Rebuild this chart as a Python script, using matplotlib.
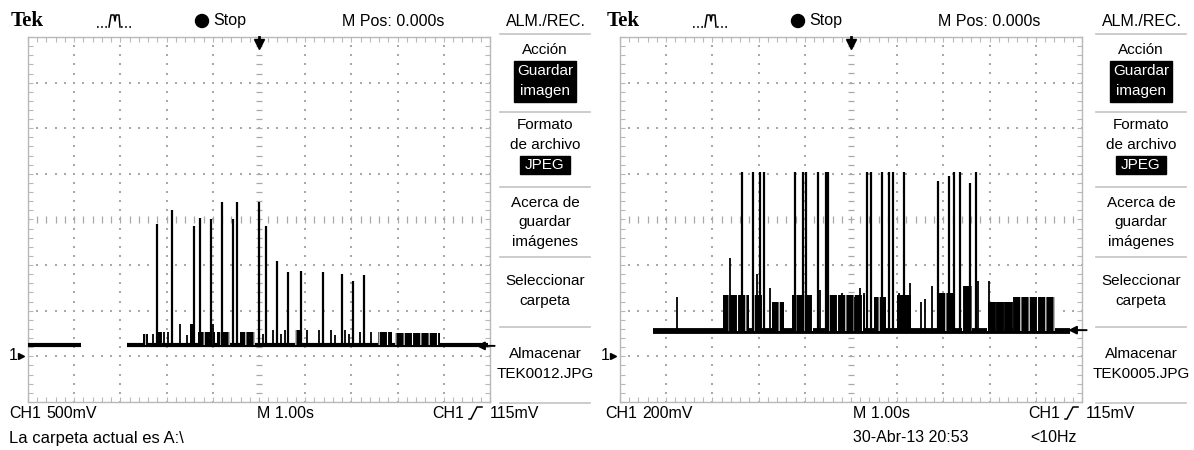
import matplotlib.pyplot as plt
import numpy as np
from matplotlib import font_manager
from matplotlib.patches import Rectangle, Circle

# ---- captured traces: time in s (M Pos 0 at centre), amplitude in V ----
left_base = [(-5.00, -3.85), (-2.86, 4.95)]
left_level = 0.12
left_spike_t = [-2.20, -1.88, -1.41, -1.28, -1.04, -0.81, -0.57, -0.48, -0.01,
                0.15, 0.39, 0.63, 0.90, 1.39, 1.79, 2.03, 2.27]
left_spike_v = [1.45, 1.60, 1.43, 1.52, 1.51, 1.69, 1.51, 1.69, 1.69,
                1.43, 1.04, 0.93, 0.94, 0.93, 0.90, 0.83, 0.89]
left_pulse_t = [-2.49, -2.42, -2.29, -2.05, -1.96, -1.72, -1.55, -0.99, 0.08, 0.30,
                0.47, 0.56, 1.04, 1.30, 1.55, 1.65, 1.86, 1.95, 2.19, 2.42]
left_pulse_v = [0.25, 0.25, 0.25, 0.27, 0.27, 0.36, 0.23, 0.36, 0.25, 0.29,
                0.25, 0.29, 0.29, 0.29, 0.29, 0.23, 0.29, 0.25, 0.27, 0.27]
left_bursts = [(-2.52, -2.40, 0.25), (-2.18, -2.11, 0.27), (-1.49, -1.41, 0.36),
               (-1.31, -0.95, 0.27), (-0.91, -0.63, 0.27), (-0.41, -0.09, 0.27),
               (0.78, 0.92, 0.29), (2.58, 2.87, 0.27), (2.94, 3.92, 0.26)]

right_base = [(-4.29, 4.74)]
right_level = 0.11
right_spike_t = [-2.37, -2.13, -1.96, -1.89, -1.21, -1.04, -0.97, -0.72, -0.54, -0.49, 0.35,
                 0.44, 0.68, 0.83, 0.90, 1.15, 1.88, 2.12, 2.23, 2.35, 2.58, 2.71]
right_spike_v = [0.81, 0.81, 0.81, 0.81, 0.81, 0.81, 0.81, 0.81, 0.81, 0.81, 0.81,
                 0.81, 0.81, 0.81, 0.81, 0.81, 0.77, 0.79, 0.81, 0.81, 0.76, 0.81]
right_pulse_t = [-3.77, -2.62, -2.03, -1.75, -1.60, -1.50, -0.67, -0.35, -0.20, -0.05,
                 0.08, 0.19, 0.28, 0.56, 1.04, 1.19, 1.28, 1.52, 1.60, 1.76, 2.75,
                 2.99, 3.05, 3.13, 3.23, 3.31, 3.41, 3.48]
right_pulse_v = [0.26, 0.43, 0.36, 0.30, 0.24, 0.24, 0.29, 0.27, 0.28, 0.27,
                 0.26, 0.30, 0.28, 0.25, 0.28, 0.25, 0.32, 0.24, 0.25, 0.31, 0.33,
                 0.33, 0.24, 0.24, 0.24, 0.24, 0.24, 0.24]
right_bursts = [(-2.77, -2.20, 0.27), (-2.12, -1.93, 0.27), (-1.70, -1.45, 0.24),
                (-1.28, -0.82, 0.27), (-0.53, 0.12, 0.27), (0.12, 0.30, 0.27),
                (0.50, 0.75, 0.26), (1.00, 1.30, 0.27), (1.90, 2.20, 0.28),
                (2.40, 2.62, 0.31), (2.94, 3.48, 0.24), (3.51, 4.42, 0.26)]

trigger_v = 0.115

W, H = 1194, 450
GT, GB, GW = 37, 402, 462          # screen graticule box (pixels)
GRID = '#a8a8a8'

names = {f.name for f in font_manager.fontManager.ttflist}
SANS = 'Liberation Sans Narrow' if 'Liberation Sans Narrow' in names else 'Liberation Sans'
FS = 11.5
plt.rcParams['hatch.linewidth'] = 0.8

fig = plt.figure(figsize=(W / 100, H / 100), dpi=100, facecolor='white')

ov = fig.add_axes([0, 0, 1, 1])
ov.set_xlim(0, W)
ov.set_ylim(H, 0)
ov.axis('off')
ov.patch.set_alpha(0)
ov.set_zorder(10)


def txt(x, y, s, ha='left', color='k', **kw):
    ov.text(x, y, s, ha=ha, va='center', color=color, fontsize=kw.pop('size', FS),
            family=kw.pop('family', SANS), **kw)


def screen(gx, vdiv, base, level, sp_t, sp_v, pu_t, pu_v, bursts, base_lw):
    ax = fig.add_axes([gx / W, 1 - GB / H, GW / W, (GB - GT) / H])
    ax.set_xlim(-5, 5)
    ax.set_ylim(-vdiv, 7 * vdiv)
    ax.patch.set_alpha(0)
    for s in ax.spines.values():
        s.set_color('#b8b8b8')
        s.set_linewidth(1)
    ax.set_xticks(np.arange(-5, 5.01, 0.2))
    ax.set_yticks((np.arange(-4, 4.01, 0.2) + 3) * vdiv)
    ax.tick_params(direction='in', length=3.5, width=0.8, color='#b8b8b8',
                   top=True, right=True, labelbottom=False, labelleft=False)

    # dotted graticule
    fine = np.arange(-4, 4.01, 0.2)
    for xm in [-4, -3, -2, -1, 1, 2, 3, 4]:
        ax.scatter(np.full_like(fine, xm), (fine + 3) * vdiv, s=1.6, marker='s',
                   color=GRID, lw=0, zorder=1)
    fx = np.arange(-5, 5.01, 0.2)
    for ym in [-3, -2, -1, 1, 2, 3]:
        ax.scatter(fx, np.full_like(fx, (ym + 3) * vdiv), s=1.6, marker='s',
                   color=GRID, lw=0, zorder=1)
    ax.hlines((fine + 3) * vdiv, -0.07, 0.07, color=GRID, lw=0.9, zorder=1)
    ax.vlines(fx, (3 - 0.07) * vdiv, (3 + 0.07) * vdiv, color=GRID, lw=0.9, zorder=1)

    # trace
    for t0, t1 in base:
        ax.plot([t0, t1], [level, level], color='k', lw=base_lw,
                solid_capstyle='butt', zorder=3)
    for t0, t1, v in bursts:
        ax.fill_between([t0, t1], level, v, facecolor='black', edgecolor='white',
                        hatch='||', lw=0, zorder=3)
    ax.vlines(pu_t, level, pu_v, color='k', lw=1.3, zorder=3)
    ax.vlines(sp_t, level, sp_v, color='k', lw=1.6, zorder=3)

    # trigger level arrow
    ax.annotate('', xy=(4.70, trigger_v), xytext=(5.1, trigger_v),
                arrowprops=dict(arrowstyle='-|>', color='k', lw=1.4,
                                mutation_scale=12, shrinkA=0, shrinkB=0),
                annotation_clip=False, zorder=4)
    return ax


screen(28, 0.5, left_base, left_level, left_spike_t, left_spike_v,
       left_pulse_t, left_pulse_v, left_bursts, 3.0)
screen(620, 0.2, right_base, right_level, right_spike_t, right_spike_v,
       right_pulse_t, right_pulse_v, right_bursts, 4.2)

panels = [
    dict(dx=0, gx=28, scale='500mV', file='TEK0012.JPG'),
    dict(dx=596, gx=620, scale='200mV', file='TEK0005.JPG'),
]

menu = [('Acción', 50), ('Formato', 125), ('de archivo', 145),
        ('Acerca de', 203), ('guardar', 222), ('imágenes', 242),
        ('Seleccionar', 281), ('carpeta', 301), ('Almacenar', 354)]
menu_lines = [34, 112, 187, 257, 327, 403]

for p in panels:
    dx, gx = p['dx'], p['gx']
    # header
    txt(11 + dx, 21, 'Tek', family='Liberation Serif', weight='bold', size=15)
    ov.plot([97 + dx, 109 + dx], [27, 27], color='k', lw=1.2, ls=(0, (1, 1.5)))
    ov.plot([109 + dx, 111 + dx, 114 + dx, 115 + dx, 116 + dx, 119 + dx, 120 + dx],
            [27, 15, 15, 21, 15, 15, 27], color='k', lw=1.1)
    ov.plot([121 + dx, 133 + dx], [27, 27], color='k', lw=1.2, ls=(0, (1, 1.5)))
    ov.add_patch(Circle((202 + dx, 21), 6.5, color='k'))
    txt(213 + dx, 21, 'Stop')
    txt(342 + dx, 21, 'M Pos: 0.000s')
    txt(546 + dx, 21, 'ALM./REC.', ha='center')

    # side menu
    for y in menu_lines:
        ov.plot([500 + dx, 590 + dx], [y, y], color='#c4c4c4', lw=1.2)
    for s, y in menu:
        txt(545 + dx, y, s, ha='center', size=11)
    txt(545 + dx, 374, p['file'], ha='center', size=11)
    ov.add_patch(Rectangle((514 + dx, 61), 62, 41, color='k'))
    txt(545 + dx, 71, 'Guardar', ha='center', color='white', size=11)
    txt(545 + dx, 91, 'imagen', ha='center', color='white', size=11)
    ov.add_patch(Rectangle((520 + dx, 156), 50, 18, color='k'))
    txt(545 + dx, 165, 'JPEG', ha='center', color='white', size=11)

    # screen markers
    cx = gx + GW / 2
    ov.plot([cx, cx], [GT, GT + 6], color='k', lw=2)
    ov.plot([cx], [GT + 7], marker='v', color='k', ms=7)
    txt(gx - 19, 356, '1')
    ov.plot([gx - 7], [356], marker='>', color='k', ms=5)

    # footer
    txt(9 + dx, 413, 'CH1')
    txt(46 + dx, 413, p['scale'])
    txt(257 + dx, 413, 'M 1.00s')
    txt(432 + dx, 413, 'CH1')
    ov.plot([469 + dx, 471 + dx, 477 + dx, 482 + dx], [419, 419, 407, 407],
            color='k', lw=1.1)
    txt(490 + dx, 413, '115mV')

txt(9, 438, 'La carpeta actual es A:\\', size=12)
txt(853, 438, '30-Abr-13 20:53')
txt(1030, 438, '<10Hz')

fig.savefig('out.png', dpi=100, facecolor='white')
